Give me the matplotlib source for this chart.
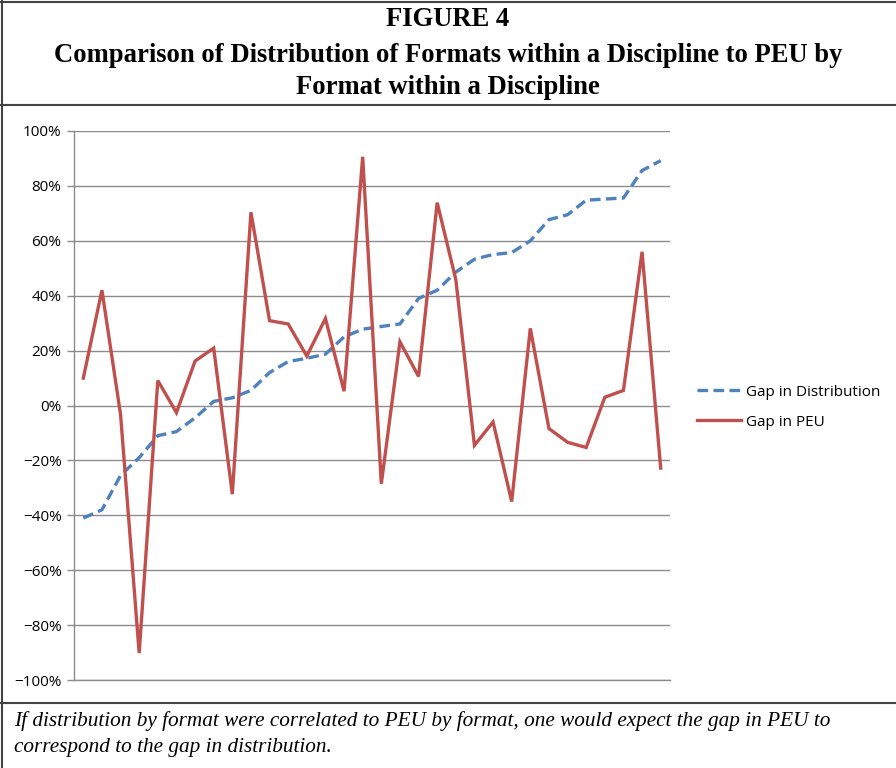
from matplotlib import pyplot as plt
from matplotlib.lines import Line2D
from matplotlib.ticker import FuncFormatter
import numpy as np

# Data (in %)
gap_distribution = [-41, -38, -25.5, -19, -11, -9.5, -4.5, 1.5, 2.8, 5.5,
                    12, 16, 17.2, 18.7, 25, 27.8, 28.8, 29.7, 39, 42,
                    48.6, 53.3, 55, 55.7, 60, 67.7, 69.5, 74.8, 75.2, 75.6,
                    85.6, 89.2]
gap_peu = [10, 42, -3.3, -90.2, 9.1, -2.6, 16.2, 20.9, -32.3, 70.4,
           30.9, 29.7, 18, 31.7, 5.2, 90.6, -28.5, 23.2, 10.6, 73.9,
           45.9, -14.5, -6, -35, 28.1, -8.4, -13.4, -15.3, 3, 5.5,
           56, -22.8]
y_ticks = [-100, -80, -60, -40, -20, 0, 20, 40, 60, 80, 100]

title_lines = ["FIGURE 4",
               "Comparison of Distribution of Formats within a Discipline to PEU by",
               "Format within a Discipline"]
caption = ("If distribution by format were correlated to PEU by format, one would expect the gap in PEU to\n"
           "correspond to the gap in distribution.")

W, H = 896, 768
fig = plt.figure(figsize=(W / 100, H / 100), dpi=100)
ax = fig.add_axes([74 / W, 1 - 680 / H, (670 - 74) / W, (680 - 131) / H])

x = np.arange(len(gap_peu))
ax.plot(x, gap_distribution, color='#4F81BD', lw=2.4, ls=(0, (3.2, 1.6)),
        label='Gap in Distribution', solid_capstyle='butt')
ax.plot(x, gap_peu, color='#C0504D', lw=2.4, label='Gap in PEU',
        solid_joinstyle='miter')

ax.set_xlim(-0.5, len(gap_peu) - 0.5)
ax.set_ylim(-100, 100)
ax.set_yticks(y_ticks)
ax.yaxis.set_major_formatter(FuncFormatter(lambda v, p: f"{int(v)}%".replace('-', '\u2212')))
ax.set_xticks([])
ax.grid(axis='y', color='#8c8c8c', lw=1.0)
ax.set_axisbelow(True)

for s in ['top', 'right']:
    ax.spines[s].set_visible(False)
for s in ['left', 'bottom']:
    ax.spines[s].set_color('#8c8c8c')
    ax.spines[s].set_linewidth(1.0)
ax.tick_params(axis='y', direction='out', length=5, width=1, color='#8c8c8c',
               labelsize=11, pad=4)
for lbl in ax.get_yticklabels():
    lbl.set_family('Open Sans')

leg = ax.legend(loc='center left', bbox_to_anchor=(1.022, 0.497), frameon=False,
                prop={'family': 'Open Sans', 'size': 11}, handlelength=2.9,
                handletextpad=0.3, labelspacing=1.0)

# Title
ty = [20, 55, 87]
for t, yy in zip(title_lines, ty):
    fig.text(0.5, 1 - yy / H, t, ha='center', va='center', family='Liberation Serif',
             weight='bold', fontsize=19.2)

# Caption
fig.text(14 / W, 1 - 734 / H, caption, ha='left', va='center', family='Liberation Serif',
         style='italic', fontsize=15.3, linespacing=1.5)

# Frame lines
for (x0, y0, x1, y1) in [(0, 2, W, 2), (2, 0, 2, H), (0, 105, W, 105), (0, 703, W, 703)]:
    fig.add_artist(Line2D([x0 / W, x1 / W], [1 - y0 / H, 1 - y1 / H],
                          transform=fig.transFigure, color='#444444', lw=1.5))

fig.savefig('out.png', dpi=100)
